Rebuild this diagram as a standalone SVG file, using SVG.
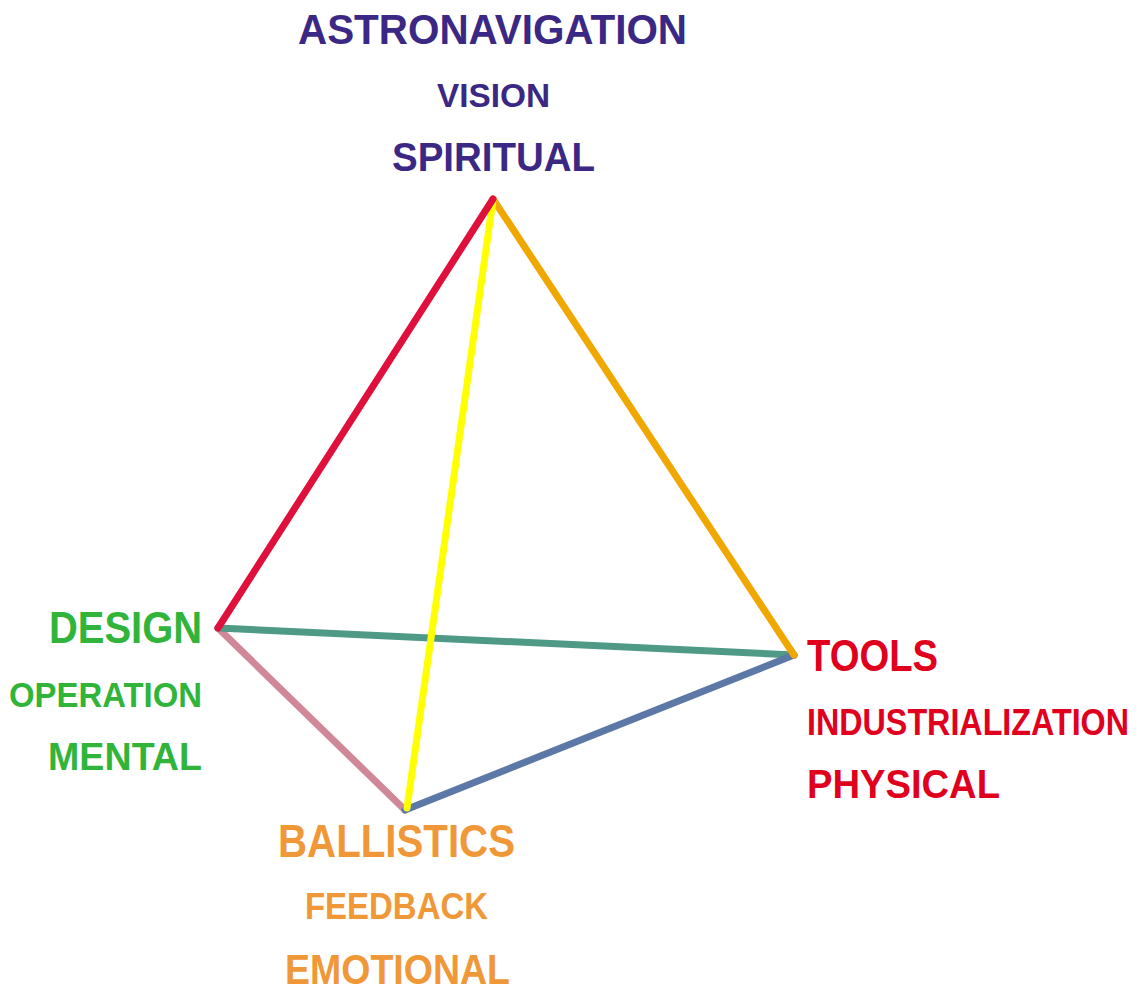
<svg xmlns="http://www.w3.org/2000/svg" width="1142" height="985" viewBox="0 0 1142 985">
<style>
text{font-family:"Liberation Sans",Arial,sans-serif;font-weight:bold}
.p{fill:#3b2784}.g{fill:#30b43a}.r{fill:#e0001e}.o{fill:#f09838}
line{stroke-width:7;stroke-linecap:round}
</style>
<rect width="1142" height="985" fill="#fff"/>
<g id="connectors">
<line x1="218" y1="628" x2="405" y2="810" stroke="#d08898"/>
<line x1="218" y1="628" x2="794" y2="655" stroke="#4e9a86"/>
<line x1="405" y1="810" x2="794" y2="655" stroke="#5c78a6"/>
<line x1="493" y1="199" x2="794" y2="655" stroke="#f0a800"/>
<line x1="493" y1="200" x2="407" y2="808" stroke="#ffff00"/>
<line x1="493" y1="199" x2="218" y2="628" stroke="#e0103c"/>
</g>
<g id="top">
<text class="p" x="298" y="44" font-size="43" textLength="389" lengthAdjust="spacingAndGlyphs">ASTRONAVIGATION</text>
<text class="p" x="437" y="107" font-size="34" textLength="113" lengthAdjust="spacingAndGlyphs">VISION</text>
<text class="p" x="392" y="171" font-size="40" textLength="203" lengthAdjust="spacingAndGlyphs">SPIRITUAL</text>
</g>
<g id="left">
<text class="g" x="49" y="643" font-size="44" textLength="153" lengthAdjust="spacingAndGlyphs">DESIGN</text>
<text class="g" x="9" y="707" font-size="35" textLength="193" lengthAdjust="spacingAndGlyphs">OPERATION</text>
<text class="g" x="48" y="770" font-size="39" textLength="154" lengthAdjust="spacingAndGlyphs">MENTAL</text>
</g>
<g id="right">
<text class="r" x="807" y="671" font-size="44" textLength="131" lengthAdjust="spacingAndGlyphs">TOOLS</text>
<text class="r" x="807" y="735" font-size="37" textLength="322" lengthAdjust="spacingAndGlyphs">INDUSTRIALIZATION</text>
<text class="r" x="807" y="798" font-size="41" textLength="193" lengthAdjust="spacingAndGlyphs">PHYSICAL</text>
</g>
<g id="bottom">
<text class="o" x="278" y="857" font-size="46" textLength="237" lengthAdjust="spacingAndGlyphs">BALLISTICS</text>
<text class="o" x="305" y="919" font-size="36" textLength="183" lengthAdjust="spacingAndGlyphs">FEEDBACK</text>
<text class="o" x="285" y="984" font-size="43" textLength="225" lengthAdjust="spacingAndGlyphs">EMOTIONAL</text>
</g>
</svg>
